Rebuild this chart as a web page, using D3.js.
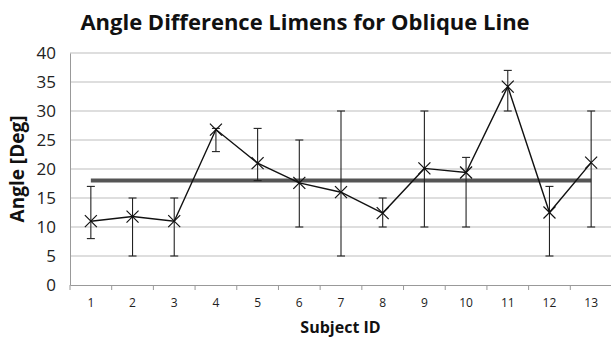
<!DOCTYPE html>
<html><head><meta charset="utf-8">
<script src="https://cdn.jsdelivr.net/npm/d3@7"></script>
<style>body{margin:0;background:#fff}svg{display:block}</style>
</head><body>
<script>
const subjects = ["1","2","3","4","5","6","7","8","9","10","11","12","13"];
const means = [11, 11.8, 11, 26.8, 21, 17.6, 16, 12.4, 20.1, 19.4, 34.2, 12.5, 21.1];
const lows  = [8, 5, 5, 23, 18, 10, 5, 10, 10, 10, 30, 5, 10];
const highs = [17, 15, 15, 27, 27, 25, 30, 15, 30, 22, 37, 17, 30];
const overallMean = 18;
const yTicks = [0,5,10,15,20,25,30,35,40];

const W = 611, H = 341;
const m = {left:70, right:-1, top:53, bottom:56};
const svg = d3.select("body").append("svg").attr("width",W).attr("height",H);
const x = d3.scaleBand().domain(subjects).range([m.left, W - m.right]);
const y = d3.scaleLinear().domain([0,40]).range([H - m.bottom, m.top]);
const font = "'Open Sans', Lato, sans-serif";

// gridlines
svg.append("g").selectAll("line").data(yTicks.filter(d=>d>0)).join("line")
  .attr("x1", m.left).attr("x2", W - m.right)
  .attr("y1", d=>y(d)).attr("y2", d=>y(d))
  .attr("stroke","#bdbdbd").attr("stroke-width",1.2);

// y axis
const ya = svg.append("g").attr("transform",`translate(${m.left},0)`)
  .call(d3.axisLeft(y).tickValues(yTicks).tickSize(0).tickPadding(14));
ya.select(".domain").attr("stroke","#999");
ya.selectAll("text").attr("font-family",font).attr("font-size",17).attr("fill","#222");

// x axis
const xa = svg.append("g").attr("transform",`translate(0,${y(0)})`)
  .call(d3.axisBottom(x).tickSize(0).tickPadding(13));
xa.select(".domain").attr("stroke","#999");
xa.selectAll("text").attr("font-family",font).attr("font-size",12).attr("fill","#222");
// boundary ticks
svg.append("g").selectAll("line").data(subjects.concat(["end"])).join("line")
  .attr("x1",(d,i)=>m.left + i*x.step()).attr("x2",(d,i)=>m.left + i*x.step())
  .attr("y1", y(0)).attr("y2", y(0)+5).attr("stroke","#999");

const cx = d => x(d) + x.bandwidth()/2;

// overall mean line
svg.append("line")
  .attr("x1", cx(subjects[0])).attr("x2", cx(subjects[subjects.length-1]))
  .attr("y1", y(overallMean)).attr("y2", y(overallMean))
  .attr("stroke","#555").attr("stroke-width",4);

// error bars
const eb = svg.append("g").attr("stroke","#222").attr("stroke-width",1.1);
subjects.forEach((s,i)=>{
  eb.append("line").attr("x1",cx(s)).attr("x2",cx(s)).attr("y1",y(lows[i])).attr("y2",y(highs[i]));
  [lows[i],highs[i]].forEach(v=>{
    eb.append("line").attr("x1",cx(s)-4).attr("x2",cx(s)+4).attr("y1",y(v)).attr("y2",y(v));
  });
});

// series line
svg.append("path").datum(means)
  .attr("d", d3.line().x((d,i)=>cx(subjects[i])).y(d=>y(d)))
  .attr("fill","none").attr("stroke","#111").attr("stroke-width",1.4);

// X markers
const mk = svg.append("g").attr("stroke","#111").attr("stroke-width",1.2);
subjects.forEach((s,i)=>{
  const px = cx(s), py = y(means[i]), r = 6;
  mk.append("line").attr("x1",px-r).attr("x2",px+r).attr("y1",py-r).attr("y2",py+r);
  mk.append("line").attr("x1",px-r).attr("x2",px+r).attr("y1",py+r).attr("y2",py-r);
});

// titles
svg.append("text").attr("x",305).attr("y",30).attr("text-anchor","middle")
  .attr("font-family",font).attr("font-weight","bold").attr("font-size",22).attr("fill","#111")
  .text("Angle Difference Limens for Oblique Line");
svg.append("text").attr("transform",`translate(24,${(y(0)+y(40))/2}) rotate(-90)`)
  .attr("text-anchor","middle").attr("font-family",font).attr("font-weight","bold")
  .attr("font-size",19).attr("fill","#111").text("Angle [Deg]");
svg.append("text").attr("x",(m.left + W)/2).attr("y",333).attr("text-anchor","middle")
  .attr("font-family",font).attr("font-weight","bold").attr("font-size",16).attr("fill","#111")
  .text("Subject ID");
</script>
</body></html>
